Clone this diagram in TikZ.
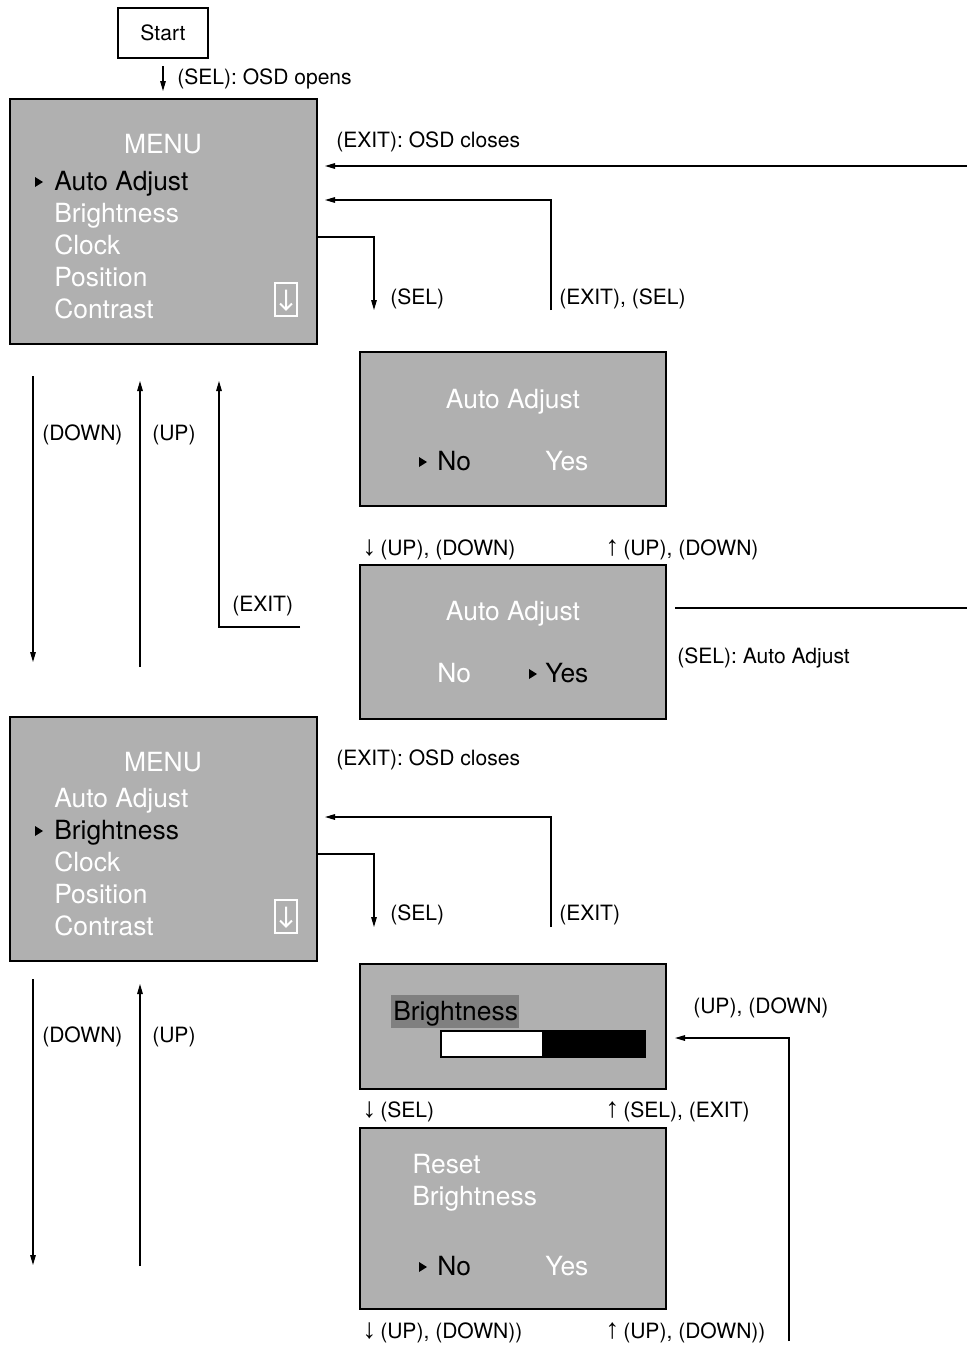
\documentclass[tikz,border=0pt]{standalone}
\usepackage{fontspec}
\setmainfont{TeX Gyre Heros}
\newfontfamily\arrfont{Liberation Sans}
\usetikzlibrary{arrows.meta,fit}
\definecolor{scr}{RGB}{176,176,176}
\definecolor{hl}{RGB}{128,128,128}
\newcommand{\dn}{{\arrfont\fontsize{21}{21}\selectfont ↓}\kern3pt}
\newcommand{\upa}{{\arrfont\fontsize{21}{21}\selectfont ↑}\kern3pt}
\begin{document}
\begin{tikzpicture}[x=0.75pt,y=-0.75pt,
  screen/.style={draw=black,line width=1.9pt,fill=scr,inner sep=0pt},
  startbox/.style={draw=black,line width=1.6pt,fill=white,inner sep=0pt},
  lbl/.style={anchor=base west,inner sep=0pt,font=\fontsize{15.8}{18}\selectfont},
  mtxt/.style={anchor=base west,inner sep=0pt,font=\fontsize{19.8}{23}\selectfont,text=white},
  msel/.style={mtxt,text=black},
  mcen/.style={mtxt,anchor=base},
  conn/.style={line width=0.85pt},
  arr/.style={conn,-{Triangle[length=7.5pt,width=4.2pt]}},
  selmark/.style={fill=black},
  iconbox/.style={draw=white,line width=1.3pt,inner sep=0pt},
  iconarrow/.style={draw=white,line width=1.5pt},
]
\useasboundingbox (0,0) rectangle (967,1347);

% ---------- start ----------
\node[startbox,fit={(118,8)(208,58)}] (start) {};
\node[lbl,anchor=center] (starttxt) at (163,33) {Start};
\coordinate (openA) at (163,66);
\coordinate (openB) at (163,91);
\draw[arr] (openA) -- (openB);
\node[lbl] (openlbl) at (177,84) {(SEL): OSD opens};

% ---------- menu A ----------
\node[screen,fit={(10,99)(317,344)}] (menuA) {};
\node[mcen] (mA0) at (163,153) {MENU};
\node[msel] (mA1) at (54,190) {Auto Adjust};
\node[mtxt] (mA2) at (54,222) {Brightness};
\node[mtxt] (mA3) at (54,254) {Clock};
\node[mtxt] (mA4) at (54,286) {Position};
\node[mtxt] (mA5) at (54,318) {Contrast};
\fill[selmark] (35,177) -- (43,182) -- (35,187) -- cycle;
\node[iconbox,fit={(275,283)(297,316)}] (iconA) {};
\draw[iconarrow] ([shift={(0,-10)}]iconA.center) -- ([shift={(0,10)}]iconA.center)
  ([shift={(-6,4)}]iconA.center) -- ([shift={(0,10)}]iconA.center) -- ([shift={(6,4)}]iconA.center);

\node[lbl] (closeA) at (336,147) {(EXIT): OSD closes};
\coordinate (closeAs) at (967,166);
\coordinate (closeAe) at (325,166);
\draw[arr] (closeAs) -- (closeAe);

\coordinate (yA237) at (0,237);
\coordinate (selAe) at (374,310);
\draw[arr] (menuA.east |- yA237) -| (selAe);
\node[lbl] (selA) at (390,304) {(SEL)};

\coordinate (exselAs) at (551,310);
\coordinate (exselAe) at (325,200);
\draw[arr] (exselAs) |- (exselAe);
\node[lbl] (exselA) at (559,304) {(EXIT), (SEL)};

% ---------- auto adjust screens ----------
\node[screen,fit={(360,352)(666,506)}] (aaNo) {};
\node[mcen] (aaNoT) at (513,408) {Auto Adjust};
\fill[selmark] (419,457) -- (427,462) -- (419,467) -- cycle;
\node[msel] (aaNo1) at (437,470) {No};
\node[mtxt] (aaNo2) at (545,470) {Yes};

\node[lbl] (udA1) at (362,555) {\dn(UP), (DOWN)};
\node[lbl] (udA2) at (605,555) {\upa(UP), (DOWN)};

\node[screen,fit={(360,565)(666,719)}] (aaYes) {};
\node[mcen] (aaYesT) at (513,620) {Auto Adjust};
\node[mtxt] (aaYes1) at (437,682) {No};
\fill[selmark] (529,669) -- (537,674) -- (529,679) -- cycle;
\node[msel] (aaYes2) at (545,682) {Yes};

\coordinate (aaLs) at (675,608);
\coordinate (aaLe) at (967,608);
\draw[conn] (aaLs) -- (aaLe);
\node[lbl] (aaLbl) at (677,663) {(SEL): Auto Adjust};

% ---------- left arrows A ----------
\coordinate (dA1) at (33,376);
\coordinate (dA2) at (33,662);
\draw[arr] (dA1) -- (dA2);
\node[lbl] (downA) at (42,440) {(DOWN)};
\coordinate (uA1) at (140,667);
\coordinate (uA2) at (140,381);
\draw[arr] (uA1) -- (uA2);
\node[lbl] (upA) at (152,440) {(UP)};
\coordinate (eA1) at (300,627);
\coordinate (eA2) at (219,381);
\draw[arr] (eA1) -| (eA2);
\node[lbl] (exitA) at (232,611) {(EXIT)};

% ---------- menu B ----------
\node[screen,fit={(10,717)(317,961)}] (menuB) {};
\node[mcen] (mB0) at (163,771) {MENU};
\node[mtxt] (mB1) at (54,807) {Auto Adjust};
\node[msel] (mB2) at (54,839) {Brightness};
\node[mtxt] (mB3) at (54,871) {Clock};
\node[mtxt] (mB4) at (54,903) {Position};
\node[mtxt] (mB5) at (54,935) {Contrast};
\fill[selmark] (35,826) -- (43,831) -- (35,836) -- cycle;
\node[iconbox,fit={(275,900)(297,933)}] (iconB) {};
\draw[iconarrow] ([shift={(0,-10)}]iconB.center) -- ([shift={(0,10)}]iconB.center)
  ([shift={(-6,4)}]iconB.center) -- ([shift={(0,10)}]iconB.center) -- ([shift={(6,4)}]iconB.center);

\node[lbl] (closeB) at (336,765) {(EXIT): OSD closes};

\coordinate (yB854) at (0,854);
\coordinate (selBe) at (374,927);
\draw[arr] (menuB.east |- yB854) -| (selBe);
\node[lbl] (selB) at (390,920) {(SEL)};

\coordinate (exBs) at (551,927);
\coordinate (exBe) at (325,817);
\draw[arr] (exBs) |- (exBe);
\node[lbl] (exitB) at (559,920) {(EXIT)};

% ---------- left arrows B ----------
\coordinate (dB1) at (33,979);
\coordinate (dB2) at (33,1265);
\draw[arr] (dB1) -- (dB2);
\node[lbl] (downB) at (42,1042) {(DOWN)};
\coordinate (uB1) at (140,1266);
\coordinate (uB2) at (140,984);
\draw[arr] (uB1) -- (uB2);
\node[lbl] (upB) at (152,1042) {(UP)};

% ---------- brightness screen ----------
\node[screen,fit={(360,964)(666,1089)}] (bright) {};
\node[fill=hl,fit={(391,995)(519,1028)},inner sep=0pt] (brHl) {};
\node[msel] (brT) at (393,1020) {Brightness};
\node[fill=white,fit={(441,1031)(542,1057)},inner sep=0pt] (barW) {};
\node[fill=black,fit={(542,1031)(645,1057)},inner sep=0pt] (barB) {};
\draw[line width=1.6pt] (barW.north west) rectangle (barB.south east);

\node[lbl] (brUD) at (693,1013) {(UP), (DOWN)};
\coordinate (rbs) at (789,1341);
\coordinate (rbe) at (675,1038);
\draw[arr] (rbs) |- (rbe);

\node[lbl] (brSel) at (362,1117) {\dn(SEL)};
\node[lbl] (brSelEx) at (605,1117) {\upa(SEL), (EXIT)};

% ---------- reset screen ----------
\node[screen,fit={(360,1128)(666,1309)}] (reset) {};
\node[mtxt] (rs1) at (412,1173) {Reset};
\node[mtxt] (rs2) at (412,1205) {Brightness};
\fill[selmark] (419,1262) -- (427,1267) -- (419,1272) -- cycle;
\node[msel] (rsNo) at (437,1275) {No};
\node[mtxt] (rsYes) at (545,1275) {Yes};

\node[lbl] (rsUD1) at (362,1338) {\dn(UP), (DOWN))};
\node[lbl] (rsUD2) at (605,1338) {\upa(UP), (DOWN))};
\end{tikzpicture}
\end{document}
